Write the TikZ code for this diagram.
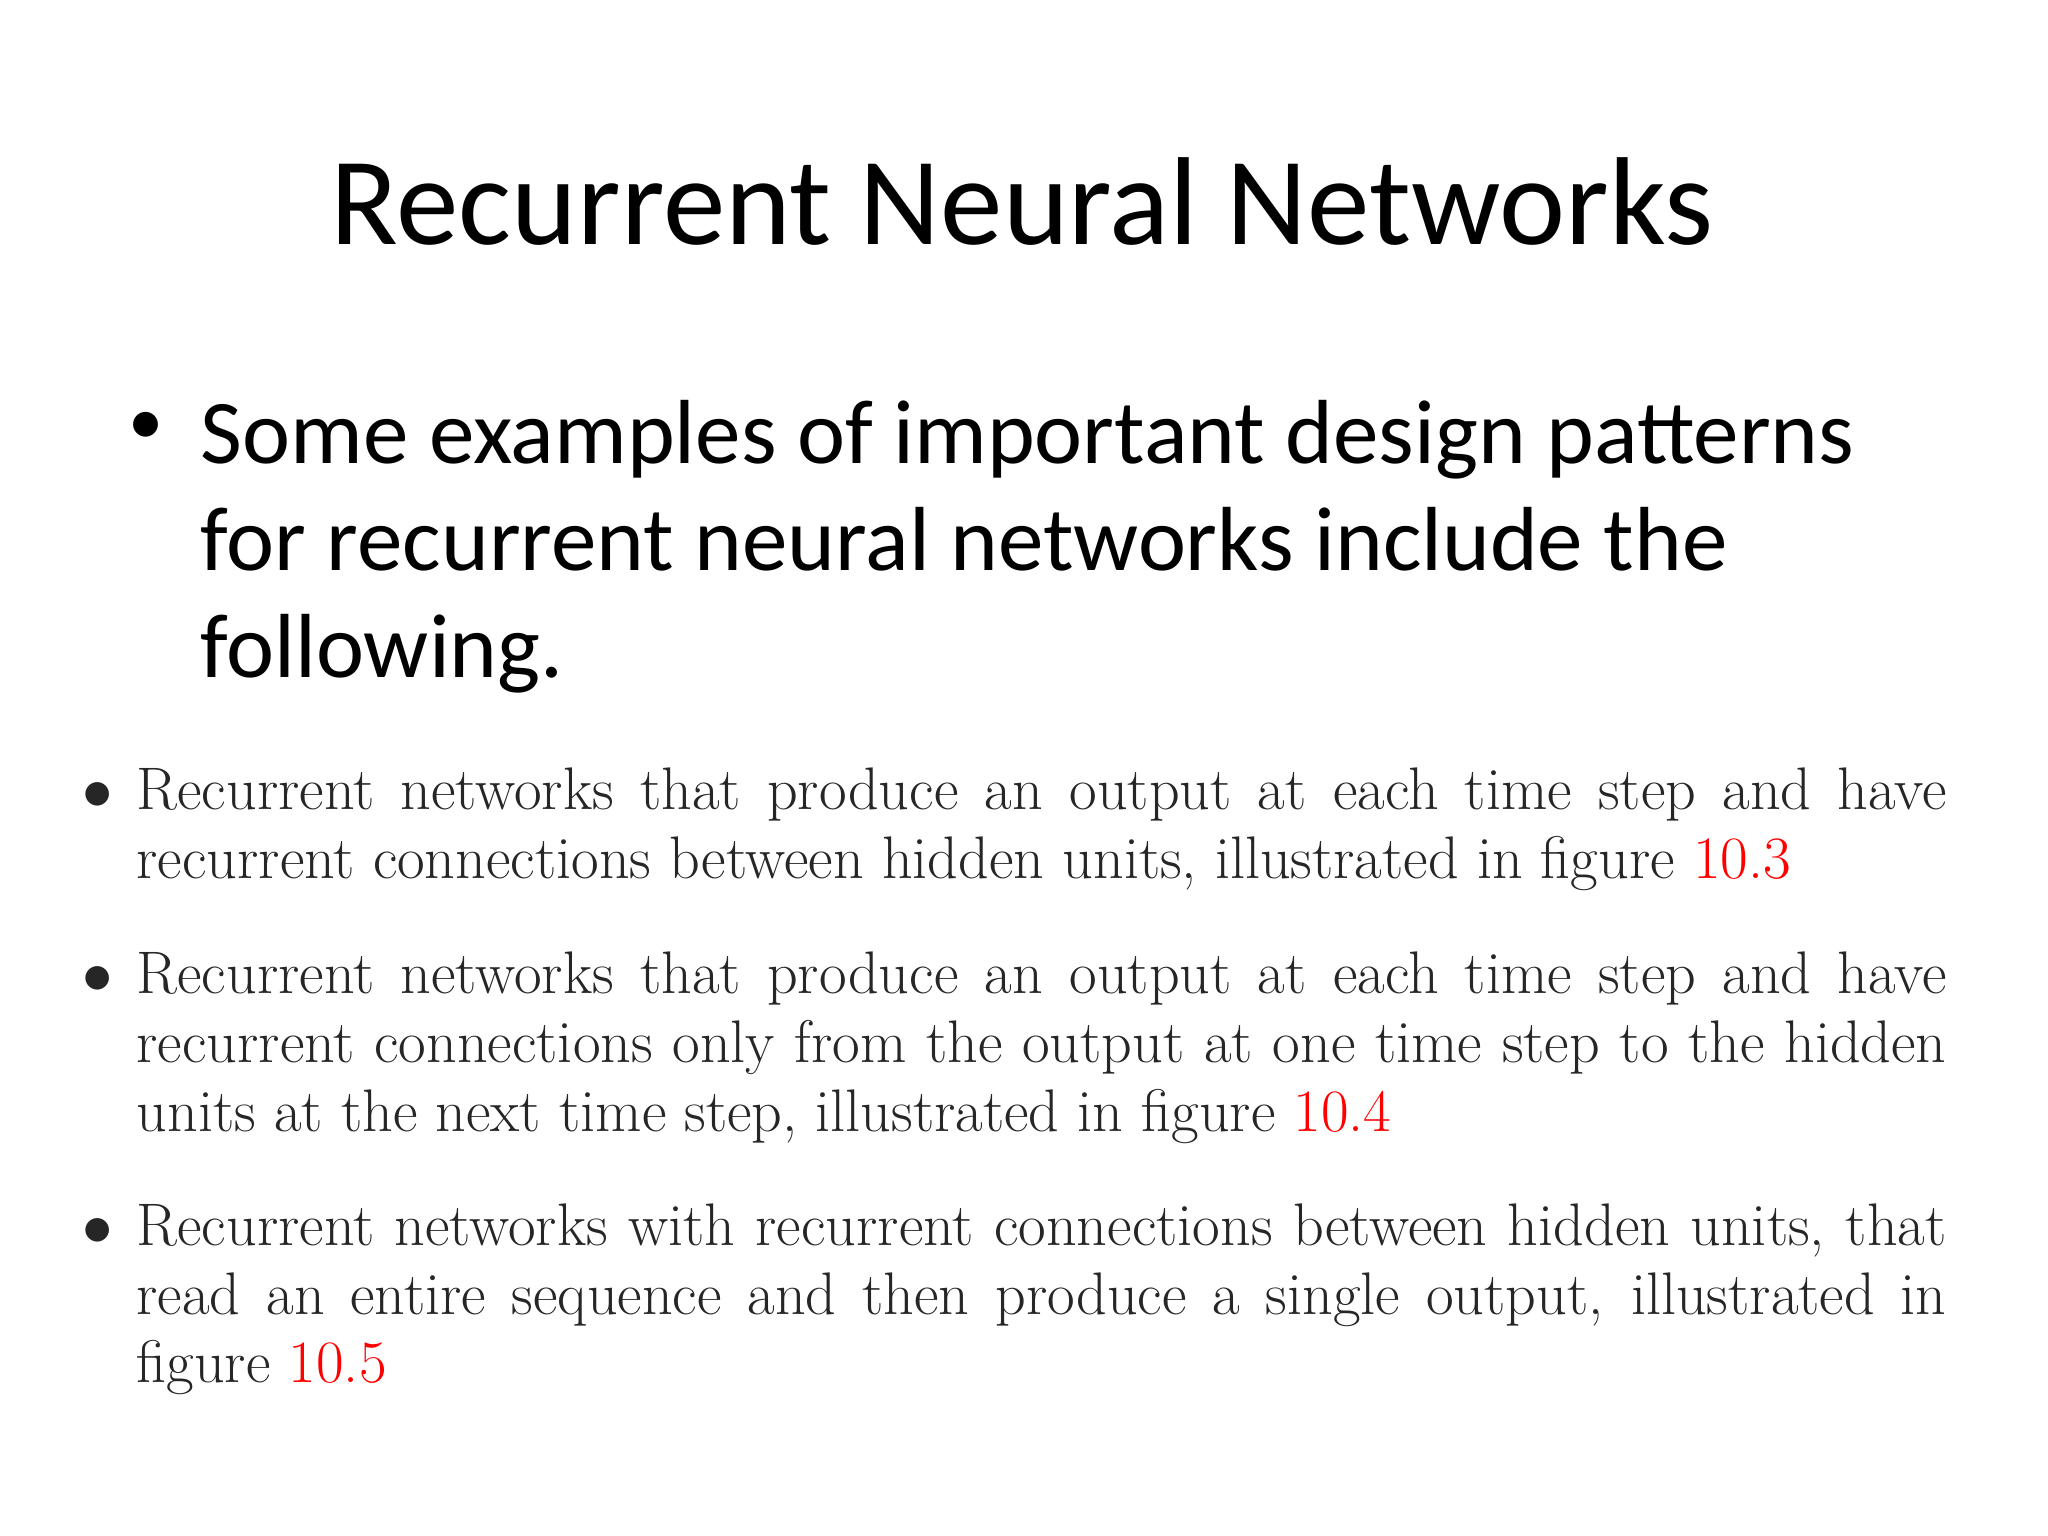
\documentclass[tikz,border=0pt]{standalone}
\usepackage{fontspec}
\setmainfont{Carlito}
\newfontfamily\lmfont{Latin Modern Roman}
\begin{document}
\begin{tikzpicture}[x=1cm,y=1cm,
  ttl/.style={inner sep=0pt,anchor=base,font=\fontsize{35.6pt}{42pt}\selectfont},
  big/.style={inner sep=0pt,anchor=base west,font=\fontsize{25.9pt}{31pt}\selectfont},
  small/.style={inner sep=0pt,anchor=base west,text=black!85,font=\lmfont\fontsize{17.1pt}{20pt}\selectfont}]
\useasboundingbox[fill=white] (0,0) rectangle (20.48,-15.36);
\newcommand\jl[1]{\makebox[18.1cm][s]{#1}}
\node[ttl] (title) at (10.22,-2.45) {Recurrent Neural Networks};
\node[big,font=\fontsize{20pt}{24pt}\selectfont] (b0) at (1.28,-4.45) {•};
\node[big] (l1) at (2.0,-4.64) {Some examples of important design patterns};
\node[big] (l2) at (2.0,-5.71) {for recurrent neural networks include the};
\node[big] (l3) at (2.0,-6.78) {following.};
\node[small] (d1) at (0.82,-8.10) {$\bullet$};
\node[small] (a1) at (1.36,-8.10) {\jl{Recurrent networks that produce an output at each time step and have}};
\node[small] (a2) at (1.36,-8.79) {recurrent connections between hidden units, illustrated in figure \textcolor{red}{10.3}};
\node[small] (d2) at (0.82,-9.93) {$\bullet$};
\node[small] (c1) at (1.36,-9.93) {\jl{Recurrent networks that produce an output at each time step and have}};
\node[small] (c2) at (1.36,-10.62) {\jl{recurrent connections only from the output at one time step to the hidden}};
\node[small] (c3) at (1.36,-11.31) {units at the next time step, illustrated in figure \textcolor{red}{10.4}};
\node[small] (d3) at (0.82,-12.45) {$\bullet$};
\node[small] (e1) at (1.36,-12.45) {\jl{Recurrent networks with recurrent connections between hidden units, that}};
\node[small] (e2) at (1.36,-13.14) {\jl{read an entire sequence and then produce a single output, illustrated in}};
\node[small] (e3) at (1.36,-13.82) {figure \textcolor{red}{10.5}};
\end{tikzpicture}
\end{document}
